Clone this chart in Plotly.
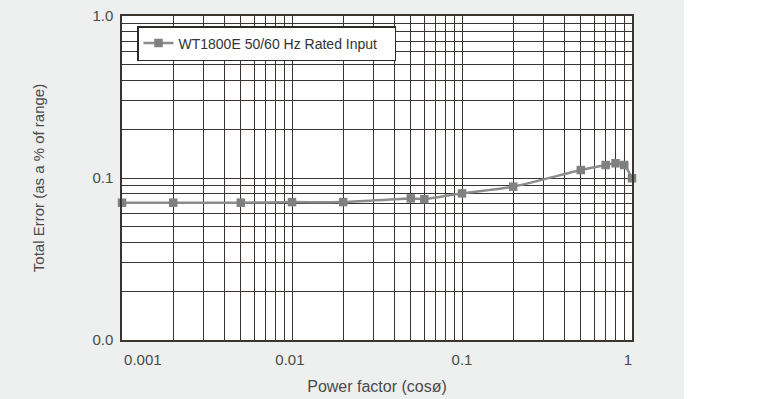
import plotly.graph_objects as go

# ---- data ----
power_factor = [0.001, 0.002, 0.005, 0.01, 0.02, 0.05, 0.06, 0.1, 0.2, 0.5, 0.7, 0.8, 0.9, 1.0]
total_error = [0.0704, 0.0704, 0.0704, 0.0710, 0.0710, 0.0748, 0.0740, 0.0804, 0.0884, 0.112, 0.1203, 0.1233, 0.1203, 0.0996]
series_name = "WT1800E 50/60 Hz Rated Input"

x_grid_vals = [m * 10 ** e for e in (-3, -2, -1) for m in range(1, 10)] + [1.0]
x_tick_labels = {0.001: "0.001", 0.01: "0.01", 0.1: "0.1", 1.0: "1"}
y_grid_vals = [m * 10 ** e for e in (-2, -1) for m in range(1, 10)] + [1.0]
y_tick_labels = {0.01: "0.0", 0.1: "0.1", 1.0: "1.0"}

NB = "\u00a0"
# small horizontal nudges of individual labels (padding with non-breaking spaces)
x_pad = {0.001: (10, 0), 0.01: (0, 1), 0.1: (0, 0), 1.0: (0, 2)}


def xlab(v):
    k = round(v, 6)
    if k not in x_tick_labels:
        return ""
    lead, trail = x_pad[k]
    return NB * lead + x_tick_labels[k] + NB * trail


x_text = [xlab(v) for v in x_grid_vals]
y_text = [y_tick_labels.get(round(v, 6), "") for v in y_grid_vals]

GRID = "#3b3330"
FONT = "Liberation Sans, Arial, sans-serif"
TXT = "#4a4a4a"

fig = go.Figure()
fig.add_trace(go.Scatter(
    x=power_factor, y=total_error, name=series_name + NB * 3,
    mode="lines+markers",
    line=dict(color="#8c8c8c", width=2.5, shape="spline", smoothing=0.5),
    marker=dict(symbol="square", size=8.5, color="#808080"),
    cliponaxis=False, showlegend=True,
))

W, H = 762, 399
L, R, T, B = 122, 130, 16, 59
pw, ph = W - L - R, H - T - B

fig.update_layout(
    width=W, height=H,
    margin=dict(l=L, r=R, t=T, b=B, pad=0, autoexpand=False),
    paper_bgcolor="#eef0ef",
    plot_bgcolor="white",
    font=dict(family=FONT, size=15, color=TXT),
    showlegend=True,
    legend=dict(
        x=(137 - L) / pw, y=(H - B - 26) / ph, xanchor="left", yanchor="top",
        bgcolor="white", bordercolor="#2e2a28", borderwidth=1.5,
        font=dict(size=14, color="#333333", family=FONT),
        itemwidth=30, tracegroupgap=0,
    ),
    xaxis=dict(
        type="log", range=[-3, 0], automargin=False,
        tickmode="array", tickvals=x_grid_vals, ticktext=x_text,
        showgrid=True, gridcolor=GRID, gridwidth=1.3,
        showline=True, linecolor=GRID, linewidth=1.5, mirror=True,
        ticks="outside", ticklen=5, tickcolor="rgba(0,0,0,0)",
        tickfont=dict(size=15, color=TXT),
        zeroline=False,
        title=dict(text="Power factor (cosø)", font=dict(size=16, color=TXT), standoff=14),
    ),
    yaxis=dict(
        type="log", range=[-2, 0], automargin=False,
        tickmode="array", tickvals=y_grid_vals, ticktext=y_text,
        showgrid=True, gridcolor=GRID, gridwidth=1.3,
        showline=True, linecolor=GRID, linewidth=1.5, mirror=True,
        ticks="outside", ticklen=4, tickcolor="rgba(0,0,0,0)",
        tickfont=dict(size=15, color=TXT),
        zeroline=False,
        title=dict(text="Total Error (as a % of range)", font=dict(size=15, color=TXT), standoff=44),
    ),
    shapes=[
        dict(type="rect", xref="paper", yref="paper",
             x0=(684 - L) / pw, x1=1.4, y0=-0.3, y1=1.2,
             fillcolor="white", line=dict(width=0), layer="below"),
    ],
)

fig.write_html("out.html", config={"displayModeBar": False},
               post_script="document.body.style.margin='0px';")
